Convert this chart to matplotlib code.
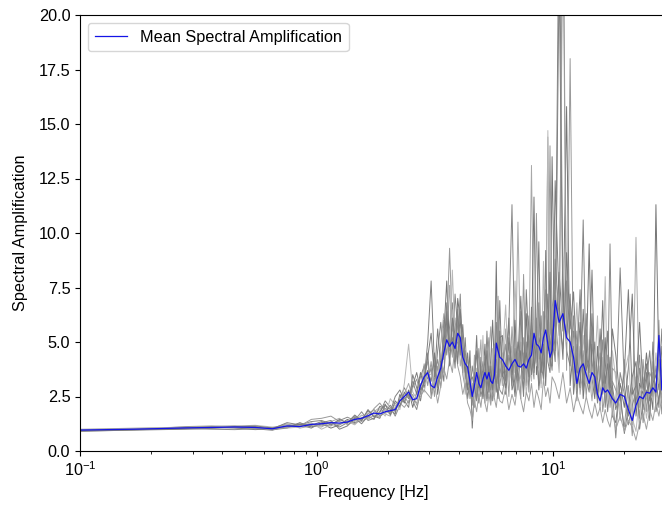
import matplotlib
matplotlib.use("Agg")
import matplotlib.pyplot as plt
import numpy as np

plt.rcParams['font.family'] = ['Liberation Sans', 'DejaVu Sans']
plt.rcParams['mathtext.default'] = 'regular'
FS = 11.7

# Frequency grid [Hz]
freq = [0.10, 0.13, 0.17, 0.22, 0.28, 0.36, 0.45, 0.55, 0.65, 0.75, 0.85, 0.95,
        1.05, 1.15, 1.25, 1.35, 1.45, 1.55, 1.65, 1.75, 1.85, 1.95,
        2.05, 2.15, 2.25, 2.35, 2.45, 2.55, 2.65, 2.75, 2.85, 2.95,
        3.05, 3.15, 3.25, 3.35, 3.45, 3.55, 3.65, 3.75, 3.85, 3.95,
        4.05, 4.15, 4.25, 4.35, 4.45, 4.55, 4.65, 4.75, 4.85, 4.95,
        5.05, 5.15, 5.25, 5.35, 5.45, 5.55, 5.65, 5.75, 5.85, 5.95,
        6.1, 6.3, 6.5, 6.7, 6.9, 7.1, 7.3, 7.5, 7.7, 7.9,
        8.1, 8.3, 8.5, 8.7, 8.9, 9.1, 9.3, 9.5, 9.7, 9.9,
        10.2, 10.6, 11.0, 11.4, 11.8, 12.2, 12.6, 13.0, 13.4, 13.8,
        14.2, 14.6, 15.0, 15.4, 15.8, 16.2, 16.6, 17.0, 17.4, 17.8,
        18.4, 19.2, 20.0, 20.8, 21.6, 22.4, 23.2, 24.0, 24.8, 25.6,
        26.4, 27.2, 28.0, 28.8, 29.6]

rec1 = [0.95, 0.97, 1.00, 1.04, 1.08, 1.12, 1.15, 1.10, 1.00, 1.10, 1.20, 1.35,
        1.40, 1.25, 1.10, 1.30, 1.55, 1.45, 1.70, 1.90, 1.60, 1.75, 2.10, 1.80, 2.40, 2.90, 2.50, 3.20, 2.60, 3.40, 3.90, 3.30,
        3.8, 2.9, 4.6, 5.9, 4.2, 6.8, 5.1, 4.4, 7.2, 5.6, 4.8, 3.6, 5.2, 3.0, 2.6, 3.9, 3.2, 4.6, 2.7, 3.5, 4.1, 2.9, 5.5, 3.6, 2.8, 4.4, 3.3, 5.9, 4.0, 3.4,
        4.5, 3.2, 5.8, 11.3, 4.1, 3.6, 5.0, 2.8, 4.3, 6.2, 3.7, 5.1, 4.0, 6.8, 3.3, 5.5, 7.4, 4.6, 5.9, 4.2,
        5.2, 26.0, 7.1, 4.6, 3.9, 6.2, 2.8, 4.3, 10.6, 3.3, 2.7, 4.9, 3.5, 2.2, 3.9, 2.6, 3.4, 1.8, 3.1, 2.5,
        2.1, 8.4, 3.0, 1.6, 2.9, 2.2, 3.8, 1.9, 3.2, 4.6, 2.5, 3.9, 2.8, 5.6, 2.3]
rec2 = [1.00, 1.02, 1.05, 1.07, 1.10, 1.10, 1.05, 1.02, 1.05, 1.25, 1.05, 1.15,
        1.10, 1.35, 1.50, 1.20, 1.35, 1.65, 1.50, 1.80, 2.00, 1.70, 1.60, 2.20, 2.00, 2.60, 3.10, 2.40, 2.20, 2.90, 3.50, 4.10,
        2.7, 3.6, 3.1, 4.9, 6.3, 5.0, 7.6, 4.3, 5.4, 6.2, 3.9, 4.7, 3.3, 4.2, 3.5, 2.3, 4.4, 2.6, 3.8, 5.1, 2.5, 3.7, 3.0, 4.6, 5.7, 3.2, 2.6, 4.8, 6.1, 4.5,
        3.0, 5.6, 3.4, 4.8, 2.7, 10.5, 3.9, 5.2, 3.5, 4.6, 13.1, 4.2, 6.1, 3.8, 5.4, 4.4, 6.3, 14.4, 4.9, 6.6,
        7.4, 5.3, 24.0, 6.0, 5.2, 3.4, 4.9, 2.6, 3.8, 5.6, 3.5, 2.3, 4.1, 3.0, 1.9, 4.3, 2.2, 3.6, 2.4, 3.8,
        3.6, 1.4, 4.2, 2.5, 1.2, 9.8, 2.0, 3.4, 2.4, 2.0, 4.1, 2.2, 6.0, 2.6, 4.0]
rec3 = [0.92, 0.94, 0.96, 0.98, 1.00, 1.04, 1.08, 1.12, 0.98, 1.05, 1.30, 1.10,
        1.25, 1.05, 1.20, 1.45, 1.30, 1.40, 1.85, 1.60, 1.50, 2.10, 1.90, 1.70, 2.60, 2.20, 2.80, 2.00, 2.70, 3.60, 2.90, 3.70,
        3.2, 4.5, 2.6, 3.7, 5.3, 7.8, 4.6, 5.9, 4.1, 7.0, 6.0, 4.2, 3.7, 2.8, 4.6, 1.05, 2.9, 3.4, 2.2, 4.3, 3.3, 4.9, 2.4, 3.2, 4.2, 6.0, 3.7, 8.7, 3.1, 5.2,
        5.3, 2.6, 4.4, 3.5, 6.0, 3.1, 4.6, 3.6, 6.3, 3.2, 4.8, 11.65, 3.5, 5.2, 4.7, 3.6, 5.0, 7.2, 3.9, 13.5,
        4.6, 8.2, 5.5, 15.8, 3.0, 4.8, 3.6, 5.9, 2.4, 4.0, 9.5, 3.3, 2.4, 4.8, 2.7, 3.1, 5.2, 2.5, 4.3, 1.6,
        1.3, 3.1, 2.0, 3.8, 7.2, 1.6, 3.1, 2.6, 4.5, 3.0, 1.9, 11.3, 3.7, 2.2, 3.4]
rec4 = [0.98, 1.00, 1.02, 1.05, 1.12, 1.15, 1.12, 1.05, 1.08, 1.20, 1.15, 1.45,
        1.50, 1.60, 1.35, 1.25, 1.60, 1.35, 1.55, 1.95, 2.20, 1.85, 1.70, 2.00, 2.30, 2.50, 2.20, 2.90, 3.30, 2.60, 4.00, 3.00,
        4.1, 2.5, 3.9, 2.9, 4.7, 5.6, 9.3, 5.5, 6.1, 4.3, 5.3, 3.5, 2.9, 3.8, 2.4, 3.1, 2.0, 3.1, 4.7, 2.8, 3.6, 2.2, 4.1, 5.2, 2.9, 3.8, 4.9, 3.6, 7.1, 3.0,
        3.8, 4.9, 2.5, 5.7, 3.6, 4.5, 2.4, 8.1, 3.0, 5.3, 4.1, 3.3, 10.9, 4.5, 3.1, 6.4, 4.1, 5.3, 14.0, 5.1,
        6.3, 4.0, 28.0, 3.7, 18.0, 2.9, 5.5, 3.4, 4.6, 2.5, 4.4, 5.6, 2.9, 3.6, 4.5, 1.8, 2.8, 4.4, 2.0, 3.2,
        2.8, 2.4, 1.1, 3.0, 0.7, 3.4, 1.5, 4.2, 1.8, 3.6, 3.2, 2.5, 5.1, 3.5, 1.8]
rec5 = [0.90, 0.93, 0.97, 1.00, 1.03, 1.00, 0.98, 1.02, 0.95, 1.15, 1.25, 1.20,
        1.20, 1.15, 1.40, 1.55, 1.40, 1.80, 1.40, 1.50, 1.75, 2.30, 2.00, 1.60, 2.10, 2.40, 2.60, 2.30, 1.90, 2.70, 3.20, 4.50,
        2.5, 3.3, 4.2, 3.3, 6.0, 4.4, 5.7, 6.8, 4.6, 5.0, 7.2, 3.9, 4.6, 3.2, 2.9, 2.1, 3.6, 2.4, 3.1, 3.7, 2.7, 3.2, 2.3, 3.0, 3.5, 2.3, 2.9, 4.2, 3.5, 2.8,
        2.6, 3.7, 4.9, 3.0, 4.7, 2.8, 6.4, 3.3, 5.0, 2.7, 5.9, 3.8, 4.6, 3.0, 6.2, 3.8, 4.5, 6.0, 4.4, 3.7,
        8.8, 6.1, 4.7, 7.8, 4.3, 5.5, 2.3, 4.8, 3.2, 6.3, 2.9, 3.7, 5.0, 2.5, 3.3, 5.1, 2.0, 3.0, 9.5, 2.8,
        0.6, 3.6, 2.6, 1.2, 2.1, 2.7, 4.4, 1.3, 2.8, 1.6, 3.6, 2.9, 4.2, 1.7, 3.0]
rec6 = [0.96, 0.99, 1.03, 1.06, 1.04, 1.08, 1.14, 1.18, 1.10, 1.05, 1.10, 1.30,
        1.00, 1.20, 1.25, 1.35, 1.20, 1.50, 1.75, 1.70, 1.90, 1.60, 2.40, 2.10, 1.90, 3.10, 4.90, 2.70, 2.40, 3.10, 2.70, 3.60,
        3.5, 3.0, 3.4, 4.5, 3.6, 5.2, 4.2, 8.3, 5.0, 4.7, 5.6, 4.4, 2.6, 3.5, 3.8, 2.8, 2.5, 3.8, 2.5, 3.1, 5.3, 2.6, 3.4, 2.5, 3.3, 4.7, 2.5, 3.1, 4.6, 3.8,
        4.2, 6.7, 3.1, 4.1, 7.8, 3.8, 3.3, 4.5, 2.6, 3.9, 3.2, 6.0, 3.9, 4.2, 2.9, 8.7, 3.4, 14.7, 5.4, 4.8,
        5.7, 3.6, 8.9, 5.0, 6.6, 3.9, 6.8, 3.1, 5.3, 3.1, 5.1, 2.7, 3.8, 6.2, 2.4, 3.5, 8.0, 2.2, 3.4, 4.6,
        3.3, 1.9, 3.5, 4.4, 1.5, 0.9, 2.6, 3.0, 1.5, 2.6, 2.4, 4.5, 3.1, 4.2, 2.6]
rec7 = [0.94, 0.96, 0.98, 1.02, 1.06, 1.10, 1.06, 0.98, 1.02, 1.30, 1.20, 1.05,
        1.30, 1.40, 1.00, 1.15, 1.50, 1.25, 1.60, 1.45, 2.05, 1.95, 1.80, 2.50, 2.80, 2.30, 2.00, 3.50, 2.90, 2.30, 3.30, 5.00,
        7.8, 3.9, 2.9, 4.1, 3.2, 6.1, 4.8, 5.2, 3.8, 6.5, 4.4, 5.8, 3.9, 2.4, 3.2, 3.4, 3.0, 2.3, 3.4, 2.5, 3.0, 4.3, 2.8, 3.9, 2.3, 2.7, 3.9, 2.7, 3.7, 6.9,
        3.4, 4.0, 6.1, 2.8, 3.3, 5.0, 4.2, 2.5, 7.4, 4.8, 3.5, 4.6, 5.3, 2.8, 4.0, 3.3, 9.2, 4.1, 3.6, 5.6,
        4.1, 22.0, 6.3, 5.3, 7.2, 2.6, 4.1, 7.4, 2.8, 4.5, 3.6, 6.3, 2.6, 3.3, 5.6, 2.9, 3.7, 5.5, 2.6, 3.0,
        1.9, 2.7, 0.8, 2.0, 3.4, 4.1, 1.0, 2.3, 3.6, 1.4, 5.0, 1.8, 2.5, 3.0, 4.6]
rec8 = [0.97, 0.99, 1.01, 1.03, 1.05, 1.07, 1.09, 1.06, 1.00, 1.08, 1.18, 1.25,
        1.15, 1.30, 1.20, 1.40, 1.25, 1.55, 1.45, 1.65, 1.55, 1.95, 1.75, 1.95, 2.20, 2.00, 2.30, 2.60, 2.10, 2.50, 2.80, 2.60,
        2.4, 3.1, 2.2, 3.0, 3.8, 3.3, 4.2, 3.6, 4.9, 3.9, 3.4, 2.6, 3.1, 2.2, 1.9, 1.4, 2.3, 1.8, 2.6, 2.0, 2.9, 2.2, 1.8, 2.6, 2.1, 3.0, 2.4, 2.0, 2.8, 2.3,
        2.2, 2.9, 1.9, 2.6, 2.1, 3.2, 2.4, 1.8, 2.7, 2.3, 3.1, 2.0, 2.8, 2.4, 1.9, 3.3, 2.5, 2.9, 2.2, 3.4,
        3.1, 2.4, 3.6, 2.2, 2.9, 1.8, 2.6, 2.1, 1.7, 2.5, 1.9, 1.5, 2.2, 1.6, 2.0, 1.3, 1.9, 1.4, 1.1, 1.8,
        1.0, 1.6, 0.9, 1.4, 1.1, 0.5, 1.3, 1.7, 1.0, 1.9, 1.4, 2.2, 1.6, 2.5, 1.8]
rec9 = [0.93, 0.95, 0.99, 1.01, 1.04, 1.06, 1.12, 1.15, 1.06, 1.12, 1.22, 1.18,
        1.35, 1.20, 1.45, 1.30, 1.65, 1.40, 1.90, 1.55, 1.80, 2.15, 1.65, 2.30, 2.05, 2.70, 2.40, 3.00, 3.60, 2.80, 3.10, 4.30,
        5.4, 3.4, 5.6, 3.9, 4.9, 6.4, 3.9, 6.1, 5.3, 4.0, 6.5, 5.0, 3.6, 4.5, 3.0, 2.6, 3.3, 5.3, 2.9, 3.9, 2.4, 3.5, 4.6, 2.7, 3.9, 2.8, 4.4, 3.3, 2.4, 5.5,
        3.6, 2.9, 5.2, 3.9, 2.5, 4.3, 7.1, 3.9, 4.5, 3.4, 6.6, 3.6, 5.1, 9.6, 3.6, 4.9, 3.0, 5.6, 8.2, 3.9,
        12.4, 6.8, 4.2, 9.1, 5.6, 7.3, 3.8, 2.9, 6.5, 3.7, 4.2, 8.3, 3.1, 2.7, 3.4, 6.9, 3.1, 4.0, 2.9, 5.6,
        4.4, 2.3, 3.6, 7.4, 2.6, 3.0, 5.9, 2.8, 4.0, 2.3, 3.1, 3.5, 2.0, 4.8, 3.2]

mean_amp = [0.96, 0.98, 1.00, 1.03, 1.06, 1.08, 1.10, 1.08, 1.02, 1.15, 1.12, 1.22,
            1.25, 1.30, 1.28, 1.33, 1.45, 1.50, 1.62, 1.74, 1.70, 1.80, 1.85, 1.90, 2.30, 2.50, 2.70, 2.35, 2.40, 3.00, 3.40, 3.60,
            3.0, 2.9, 3.4, 3.8, 4.5, 5.1, 4.8, 5.0, 4.7, 5.4, 5.2, 4.3, 4.0, 3.85, 3.2, 2.5, 3.0, 3.6, 3.1, 2.9, 3.3, 3.6, 3.3, 3.6, 3.2, 3.1, 3.5, 4.95, 4.6, 4.3,
            4.2, 3.9, 3.7, 4.0, 4.2, 3.9, 3.85, 4.0, 3.8, 4.2, 4.4, 5.4, 4.9, 4.8, 4.5, 5.2, 5.55, 4.9, 4.3, 4.6,
            6.9, 5.9, 6.3, 5.2, 5.0, 4.3, 3.1, 3.8, 4.0, 3.5, 3.1, 3.6, 3.4, 2.6, 2.3, 2.9, 2.7, 2.8, 2.6, 2.4,
            2.2, 2.6, 2.5, 1.9, 1.4, 2.1, 2.5, 2.4, 2.7, 2.65, 2.9, 2.7, 5.3, 2.8, 3.0]

records = [rec1, rec2, rec3, rec4, rec5, rec6, rec7, rec8, rec9]
rec_colors = ['#858585', '#a8a8a8', '#757575', '#999999', '#8a8a8a',
              '#b8b8b8', '#808080', '#a0a0a0', '#7c7c7c']

fig = plt.figure(figsize=(6.62, 5.15), dpi=100)
ax = fig.add_axes([80 / 662, 64 / 515, 586 / 662, 436 / 515])

for rec, c in zip(records, rec_colors):
    ax.plot(freq, rec, color=c, lw=0.7)
ax.plot(freq, mean_amp, color='#1414e6', lw=0.9, label='Mean Spectral Amplification')

ax.set_xscale('log')
ax.set_xlim(0.1, 30)
ax.set_ylim(0, 20)
ax.set_yticks(np.arange(0, 20.01, 2.5))
ax.yaxis.set_major_formatter(matplotlib.ticker.FormatStrFormatter('%.1f'))
ax.tick_params(labelsize=FS)
ax.set_xlabel('Frequency [Hz]', fontsize=FS)
ax.set_ylabel('Spectral Amplification', fontsize=FS, labelpad=7.5)
ax.legend(loc='upper left', fontsize=FS)

fig.savefig('out.png', dpi=100)
